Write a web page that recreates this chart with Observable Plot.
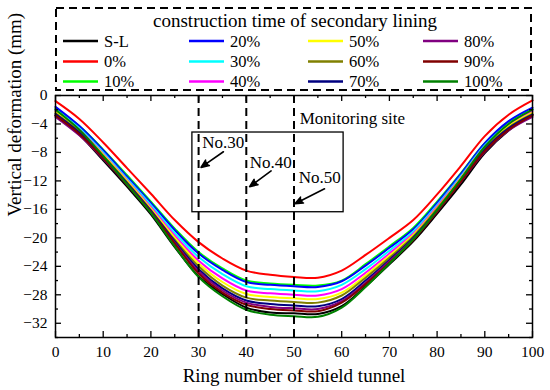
<!DOCTYPE html>
<html><head><meta charset="utf-8">
<script src="https://cdn.jsdelivr.net/npm/d3@7"></script>
<script src="https://cdn.jsdelivr.net/npm/@observablehq/plot@0.6"></script>
<style>
body{margin:0;background:#fff;font-family:"Liberation Serif","Times New Roman",serif;}
#wrap{position:relative;width:550px;height:390px;}
#legend{position:absolute;left:55px;top:7px;width:477px;height:84px;}
svg, svg text{font-family:"Liberation Serif","Times New Roman",serif !important;}
</style></head><body>
<div id="wrap"><div id="chart"></div><div id="legend"></div></div>
<script>
// ---- data ----
const rings = [0,5,10,15,20,25,30,35,40,45,50,55,60,65,70,75,80,85,90,95,100];
const seriesNames = ["S-L","0%","10%","20%","30%","40%","50%","60%","70%","80%","90%","100%"];
const seriesColors = ["#000000","#ff0000","#00ff00","#0000ff","#00ffff","#ff00ff","#ffff00","#808000","#000080","#800080","#800000","#008000"];
const sL   = [-2.8,-5.5,-9.1,-12.8,-16.7,-21.3,-25.4,-27.9,-29.8,-30.5,-30.6,-30.7,-29.6,-26.8,-23.7,-20.5,-16.6,-12.5,-8.1,-4.9,-2.7];
const p0   = [-0.8,-3.3,-6.6,-10.2,-13.8,-17.5,-20.6,-22.9,-24.6,-25.2,-25.5,-25.6,-24.6,-22.4,-20.0,-17.5,-13.9,-9.9,-5.7,-2.7,-0.7];
const p10  = [-1.8,-4.3,-7.6,-11.2,-14.9,-18.7,-22.0,-24.3,-26.0,-26.4,-26.6,-26.7,-26.0,-23.7,-21.2,-18.6,-14.9,-10.9,-6.7,-3.7,-1.9];
const p20  = [-1.6,-4.3,-7.7,-11.4,-15.1,-18.9,-22.2,-24.5,-26.2,-26.6,-26.8,-26.9,-26.1,-23.9,-21.4,-18.8,-15.1,-11.0,-6.7,-3.6,-1.7];
const p30  = [-2.0,-4.6,-8.0,-11.7,-15.4,-19.3,-22.7,-25.1,-26.8,-27.2,-27.4,-27.5,-26.6,-24.4,-21.8,-19.1,-15.4,-11.3,-7.0,-4.0,-2.0];
const p40  = [-2.2,-4.8,-8.2,-11.9,-15.7,-19.7,-23.2,-25.7,-27.4,-27.8,-28.0,-28.1,-27.2,-24.9,-22.2,-19.4,-15.6,-11.5,-7.2,-4.2,-2.2];
const p50  = [-2.3,-4.9,-8.3,-12.0,-15.9,-20.0,-23.6,-26.2,-27.9,-28.3,-28.5,-28.6,-27.7,-25.3,-22.5,-19.6,-15.8,-11.6,-7.3,-4.3,-2.4];
const p60  = [-2.5,-5.1,-8.5,-12.2,-16.1,-20.3,-24.0,-26.7,-28.4,-28.8,-29.0,-29.1,-28.1,-25.6,-22.8,-19.8,-15.9,-11.8,-7.5,-4.5,-2.6];
const p70  = [-2.6,-5.2,-8.6,-12.3,-16.2,-20.5,-24.4,-27.1,-28.8,-29.3,-29.5,-29.6,-28.6,-26.0,-23.1,-20.0,-16.1,-11.9,-7.6,-4.6,-2.7];
const p80  = [-3.0,-5.6,-8.9,-12.5,-16.4,-20.7,-24.7,-27.4,-29.1,-29.7,-29.9,-30.0,-28.9,-26.3,-23.3,-20.2,-16.3,-12.1,-7.9,-4.9,-3.0];
const p90  = [-2.8,-5.4,-8.8,-12.5,-16.4,-20.8,-25.0,-27.7,-29.4,-30.0,-30.2,-30.3,-29.1,-26.5,-23.5,-20.3,-16.3,-12.1,-7.8,-4.8,-2.8];
const p100 = [-2.0,-4.8,-8.5,-12.5,-16.5,-21.2,-25.5,-28.2,-30.1,-30.8,-31.0,-31.1,-29.8,-26.9,-23.6,-20.2,-16.1,-11.7,-7.2,-4.0,-2.0];
const seriesValues = [sL,p0,p10,p20,p30,p40,p50,p60,p70,p80,p90,p100];

const xTicks = [0,10,20,30,40,50,60,70,80,90,100];
const xMinor = [5,15,25,35,45,55,65,75,85,95];
const yTicks = [0,-4,-8,-12,-16,-20,-24,-28,-32];
const yMinor = [-2,-6,-10,-14,-18,-22,-26,-30,-34];

const siteRings = [30,40,50];
const siteLabels = ["No.30","No.40","No.50"];
const labelX = [30.75,40.7,51.0];
const labelY = [-6.6,-9.4,-11.5];
const arrowX1 = [35.2,45.2,56.4];
const arrowY1 = [-7.9,-10.6,-13.1];
const arrowX2 = [30.5,40.7,50.2];
const arrowY2 = [-10.1,-12.8,-15.2];
const boxX = [28.7,60.4];
const boxY = [-5.2,-16.4];
const siteTitle = "Monitoring site";
const siteTitleX = 51.2, siteTitleY = -3.3;

// ---- build tables ----
const table = seriesNames.flatMap((s,i) => rings.map((r,j) => ({series:s, ring:r, value:seriesValues[i][j]})));
const labels = siteLabels.map((t,i)=>({t, x:labelX[i], y:labelY[i]}));
const arrows = siteLabels.map((t,i)=>({x1:arrowX1[i], y1:arrowY1[i], x2:arrowX2[i], y2:arrowY2[i]}));

const W=550,H=390,mL=55,mR=18,mT=95,mB=53;
const pw=W-mL-mR, ph=H-mT-mB;
const font = '"Liberation Serif","Times New Roman",serif';

const chart = Plot.plot({
  width:W, height:H, marginLeft:mL, marginRight:mR, marginTop:mT, marginBottom:mB,
  style:{fontFamily:font, background:"white", color:"black"},
  x:{domain:[0,100], axis:null},
  y:{domain:[-34,0], axis:null},
  color:{domain:seriesNames, range:seriesColors},
  marks:[
    Plot.line(table,{x:"ring", y:"value", z:"series", stroke:"series", strokeWidth:2, curve:"catmull-rom"}),
    Plot.ruleX(siteRings,{x:d=>d, stroke:"black", strokeWidth:2, strokeDasharray:"8,5"}),
    Plot.rect([{}],{x1:()=>boxX[0], x2:()=>boxX[1], y1:()=>boxY[0], y2:()=>boxY[1], fill:"none", stroke:"black", strokeWidth:1.3}),
    Plot.text([siteTitle],{x:()=>siteTitleX, y:()=>siteTitleY, text:d=>d, textAnchor:"start", fontSize:17, fill:"black"}),
    Plot.text(labels,{x:"x", y:"y", text:"t", textAnchor:"start", fontSize:17, fill:"black"}),
    Plot.arrow(arrows,{x1:"x1", y1:"y1", x2:"x2", y2:"y2", stroke:"black", strokeWidth:1.6, headLength:8, headAngle:45}),
    Plot.frame({stroke:"black", strokeWidth:1.5}),
    Plot.tickX(xTicks,{x:d=>d, insetTop:ph-6, stroke:"black", strokeWidth:1.3}),
    Plot.tickX(xMinor,{x:d=>d, insetTop:ph-3, stroke:"black", strokeWidth:1.3}),
    Plot.tickX(xTicks,{x:d=>d, insetBottom:ph-6, stroke:"black", strokeWidth:1.3}),
    Plot.tickX(xMinor,{x:d=>d, insetBottom:ph-3, stroke:"black", strokeWidth:1.3}),
    Plot.tickY(yTicks,{y:d=>d, insetRight:pw-6, stroke:"black", strokeWidth:1.3}),
    Plot.tickY(yMinor,{y:d=>d, insetRight:pw-3, stroke:"black", strokeWidth:1.3}),
    Plot.tickY(yTicks,{y:d=>d, insetLeft:pw-6, stroke:"black", strokeWidth:1.3}),
    Plot.tickY(yMinor,{y:d=>d, insetLeft:pw-3, stroke:"black", strokeWidth:1.3}),
    Plot.axisX(xTicks,{tickSize:0, tickPadding:8, fontSize:15.5, label:null, fill:"black"}),
    Plot.axisY(yTicks,{tickSize:0, tickPadding:8, fontSize:15.5, label:null, fill:"black"}),
    Plot.text(["Ring number of shield tunnel"],{frameAnchor:"bottom", dy:38, fontSize:19, fill:"black", lineAnchor:"middle"}),
    Plot.text(["Vertical deformation (mm)"],{frameAnchor:"left", dx:-41, rotate:-90, fontSize:19, fill:"black", lineAnchor:"middle"})
  ]
});
// filled arrowheads
d3.select(chart).selectAll('g[aria-label="arrow"] path').attr("fill","black");
document.getElementById("chart").appendChild(chart);

// ---- legend ----
const legendTitle = "construction time of secondary lining";
const lg = d3.select("#legend").append("svg").attr("width",477).attr("height",84);
lg.append("rect").attr("x",1).attr("y",1).attr("width",475).attr("height",82)
  .attr("fill","none").attr("stroke","black").attr("stroke-width",2).attr("stroke-dasharray","8,5");
lg.append("text").attr("x",240).attr("y",20).attr("text-anchor","middle")
  .attr("font-size",19).text(legendTitle);
const colX=[8,134,253,368], rowY=[34,54.5,74.5];
seriesNames.forEach((s,i)=>{
  const c=Math.floor(i/3), r=i%3;
  const g=lg.append("g").attr("transform",`translate(${colX[c]},${rowY[r]})`);
  g.append("line").attr("x1",0).attr("x2",35).attr("y1",0).attr("y2",0)
    .attr("stroke",seriesColors[i]).attr("stroke-width",2.5);
  g.append("text").attr("x",41).attr("y",5.5).attr("font-size",16.5).text(s);
});
</script>
</body></html>
